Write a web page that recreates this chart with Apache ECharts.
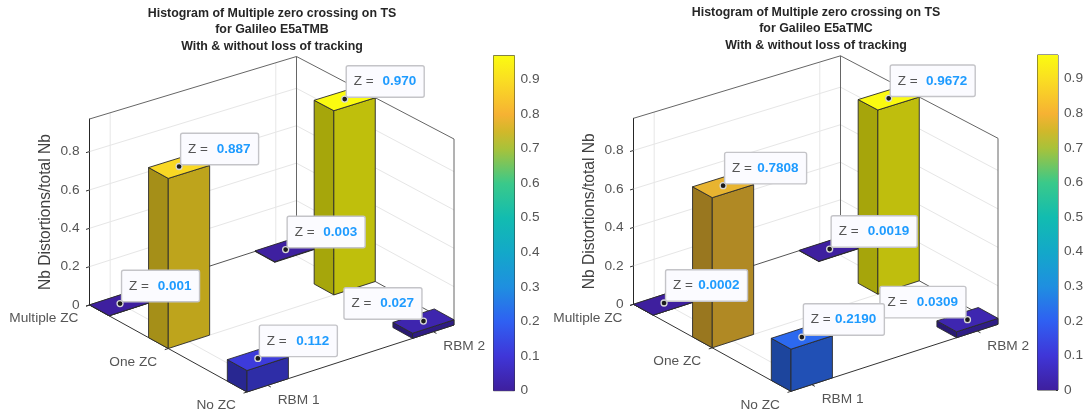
<!DOCTYPE html>
<html><head><meta charset="utf-8">
<style>html,body{margin:0;padding:0;background:#fff}#c{width:1086px;height:414px}</style>
<script src="https://cdn.jsdelivr.net/npm/echarts@6/dist/echarts.min.js"></script>
</head><body><div id="c"></div>
<script>
// ---- data ----
const rbmLabels = ['RBM 1', 'RBM 2'];
const zcLabels = ['Multiple ZC', 'One ZC', 'No ZC'];
const zTicks = [0.2, 0.4, 0.6, 0.8];
const titlesA = 'Histogram of Multiple zero crossing on TS\nfor Galileo E5aTMB\nWith & without loss of tracking';
const titlesB = 'Histogram of Multiple zero crossing on TS\nfor Galileo E5aTMC\nWith & without loss of tracking';
// rows: Multiple ZC, One ZC, No ZC ; columns: RBM 1, RBM 2
const valuesA = [[0.001, 0.003], [0.887, 0.970], [0.112, 0.027]];
const valuesB = [[0.0002, 0.0019], [0.7808, 0.9672], [0.2190, 0.0309]];
const zMaxA = 0.97, zMaxB = 0.9672;
const decimalsA = 3, decimalsB = 4;
// colormap stops: [fraction of the bar, colour]
const cmapStops = [[0,'#3e1f9e'],[0.1,'#3f36d8'],[0.2,'#2f60f2'],[0.3,'#1f8fe0'],[0.4,'#13a8c9'],[0.5,'#12bcb0'],
  [0.6,'#3ac98a'],[0.7,'#a8c23a'],[0.75,'#d1b82a'],[0.8,'#f6b233'],[0.9,'#fade22'],[0.97,'#fbfb10']];

// ---- layout ----
const panels = [
  {ox:0,   oy:0,    values:valuesA, zMax:zMaxA, dec:decimalsA, title:titlesA,
   tipW:[[78,78],[78,78],[78,78]], tipFlip:[[0,0],[0,0],[0,1]]},
  {ox:544, oy:-0.7, values:valuesB, zMax:zMaxB, dec:decimalsB, title:titlesB,
   tipW:[[82,86],[82,85],[81,86]], tipFlip:[[0,0],[0,0],[0,1]]}
];
const X0=0.875, XR=1.25, Y0=1, YR=2;
const yEdges=[[1,1.25],[1.75,2],[2.75,3]];
const xEdges=[[0.875,1.125],[1.875,2.125]];
const PW=364.5, PH=336;
function toV(panel,x,y,z){ // 3D data -> plane of the hidden cartesian axes
  const fx=(x-X0)/XR, fy=(y-Y0)/YR, h=186-4.5*fx*(1-fy);
  return [207*fx+157.5*fy, 249-67*fx+87*fy-h*(z/panel.zMax)];
}
function hex(c){return [1,3,5].map(i=>parseInt(c.substr(i,2),16));}
function cmap(v,k){
  let s=cmapStops,i=0; while(i<s.length-2&&v>s[i+1][0])i++;
  const t=Math.min(1,Math.max(0,(v-s[i][0])/(s[i+1][0]-s[i][0]))),a=hex(s[i][1]),b=hex(s[i+1][1]);
  return 'rgb('+a.map((q,j)=>Math.round((q+(b[j]-q)*t)*k)).join(',')+')';
}
const font='"Liberation Sans",Arial,sans-serif';
const grids=[],xAxes=[],yAxes=[],series=[],titles=[];

panels.forEach(p=>{
  const g=grids.length;
  // projected plane
  grids.push({left:89.5+p.ox,top:56+p.oy,width:PW,height:PH});
  xAxes.push({gridIndex:g,type:'value',min:0,max:PW,show:false});
  yAxes.push({gridIndex:g,type:'value',min:0,max:PH,inverse:true,show:false});
  // z axis
  grids.push({left:89.5+p.ox,top:119+p.oy,width:1,height:186});
  xAxes.push({gridIndex:g+1,type:'value',show:false,min:0,max:1});
  yAxes.push({gridIndex:g+1,type:'value',min:0,max:p.zMax,interval:0.2,position:'left',
    name:'Nb Distortions/total Nb',nameLocation:'middle',nameGap:36,
    nameTextStyle:{fontFamily:font,fontSize:15.6,color:'#404040'},
    axisLine:{show:true,lineStyle:{color:'#262626',width:1}},axisTick:{show:false},splitLine:{show:false},
    axisLabel:{showMaxLabel:false,fontFamily:font,fontSize:13.7,color:'#555',margin:10,
      formatter:v=>String(Math.round(v*10)/10)}});
  // colorbar
  grids.push({left:493.5+p.ox,top:55.7+p.oy,width:21,height:335,show:true,borderColor:'#333',borderWidth:1,backgroundColor:'transparent'});
  xAxes.push({gridIndex:g+2,type:'category',data:[''],show:false});
  yAxes.push({gridIndex:g+2,type:'value',min:0,max:0.968,interval:0.1,position:'right',
    axisLine:{show:false},axisTick:{show:true,inside:true,length:2,lineStyle:{color:'#333'}},splitLine:{show:false},
    axisLabel:{showMaxLabel:false,fontFamily:font,fontSize:13.7,color:'#555',margin:6,
      formatter:v=>String(Math.round(v*10)/10)}});
  series.push({type:'bar',xAxisIndex:g+2,yAxisIndex:g+2,data:[0.968],barWidth:'100%',silent:true,
    itemStyle:{color:new echarts.graphic.LinearGradient(0,1,0,0,cmapStops.map(s=>({offset:s[0]/0.97,color:s[1]})))}});

  titles.push({text:p.title,left:272+p.ox,top:5+p.oy,padding:0,textAlign:'center',
    textStyle:{fontFamily:font,fontSize:12.4,fontWeight:'bold',color:'#262626',lineHeight:16.5}});

  // frame + grid segments
  const XA=X0+XR,YA=Y0+YR,Z=p.zMax;
  const seg=[];
  const L='#e6e6e6',E='#666',D='#333';
  zTicks.forEach(z=>{seg.push([X0,Y0,z,XA,Y0,z,L],[XA,Y0,z,XA,YA,z,L]);});
  [1,2].forEach(x=>{seg.push([x,Y0,0,x,Y0,Z,L],[x,Y0,0,x,YA,0,L]);});
  seg.push([XA,2,0,XA,2,Z,L],[X0,2,0,XA,2,0,L]);
  seg.push([X0,Y0,Z,XA,Y0,Z,E],[XA,Y0,Z,XA,YA,Z,E],[XA,Y0,0,XA,Y0,Z,E],[XA,YA,0,XA,YA,Z,E]);
  seg.push([X0,Y0,0,XA,Y0,0,'#555'],[XA,Y0,0,XA,YA,0,'#555'],[X0,Y0,0,X0,YA,0,D],[X0,YA,0,XA,YA,0,D]);
  zTicks.concat([0]).forEach(z=>seg.push([X0,Y0,z,X0-0.021,Y0,z,D]));
  [1,2,3].forEach(y=>seg.push([X0,y,0,X0-0.021,y,0,D]));
  [1,2].forEach(x=>seg.push([x,YA,0,x,YA+0.04,0,D]));
  series.push({type:'custom',xAxisIndex:g,yAxisIndex:g,coordinateSystem:'cartesian2d',silent:true,data:seg,
    encode:{x:0,y:1},z:2,
    renderItem:(ps,api)=>{const r=seg[ps.dataIndex];
      const a=api.coord(toV(p,r[0],r[1],r[2])),b=api.coord(toV(p,r[3],r[4],r[5]));
      return {type:'line',shape:{x1:a[0],y1:a[1],x2:b[0],y2:b[1]},style:{stroke:r[6],lineWidth:1}};}});

  // axis category labels
  const labs=[];
  zcLabels.forEach((t,i)=>labs.push({t,x:X0,y:i+1,dx:-11,dy:13.5,al:'right'}));
  rbmLabels.forEach((t,i)=>labs.push({t,x:i+1,y:YA,dx:10,dy:15,al:'left'}));
  series.push({type:'custom',xAxisIndex:g,yAxisIndex:g,coordinateSystem:'cartesian2d',silent:true,data:labs.map((l,i)=>[i,0]),
    encode:{x:0,y:1},z:3,
    renderItem:(ps,api)=>{const l=labs[ps.dataIndex],a=api.coord(toV(p,l.x,l.y,0));
      return {type:'text',x:a[0]+l.dx,y:a[1]+l.dy,style:{text:l.t,fill:'#555',font:'13.7px '+font,textAlign:l.al,textVerticalAlign:'middle'}};}});

  // bars, back to front
  const bars=[];
  p.values.forEach((row,i)=>row.forEach((v,j)=>bars.push({i,j,v})));
  bars.sort((a,b)=>(b.j-a.j)-(b.i-a.i)||a.i-b.i);
  series.push({type:'custom',xAxisIndex:g,yAxisIndex:g,coordinateSystem:'cartesian2d',silent:true,data:bars.map(b=>[b.j,b.i,b.v]),
    encode:{x:0,y:1},z:4,
    renderItem:(ps,api)=>{const b=bars[ps.dataIndex];
      const [xl,xh]=xEdges[b.j],[yl,yh]=yEdges[b.i],Pt=(x,y,z)=>api.coord(toV(p,x,y,z));
      const f=(pts,k)=>({type:'polygon',shape:{points:pts},style:{fill:cmap(b.v,k),stroke:'#2a2a2a',lineWidth:0.9,lineJoin:'round'}});
      return {type:'group',children:[
        f([Pt(xl,yl,0),Pt(xl,yh,0),Pt(xl,yh,b.v),Pt(xl,yl,b.v)],0.66),
        f([Pt(xl,yh,0),Pt(xh,yh,0),Pt(xh,yh,b.v),Pt(xl,yh,b.v)],0.76),
        f([Pt(xl,yl,b.v),Pt(xl,yh,b.v),Pt(xh,yh,b.v),Pt(xh,yl,b.v)],1)
      ]};}});

  // data tips
  series.push({type:'custom',xAxisIndex:g,yAxisIndex:g,coordinateSystem:'cartesian2d',silent:true,data:bars.map(b=>[b.j,b.i,b.v]),
    encode:{x:0,y:1},z:6,
    renderItem:(ps,api)=>{const b=bars[ps.dataIndex];
      const cx=(xEdges[b.j][0]+xEdges[b.j][1])/2,cy=(yEdges[b.i][0]+yEdges[b.i][1])/2;
      const d=api.coord(toV(p,cx,cy,b.v)),w=p.tipW[b.i][b.j],H=31.5;
      const bx=p.tipFlip[b.i][b.j]?d[0]-1.5-w:d[0]+1.5, by=d[1]-1.8-H;
      return {type:'group',children:[
        {type:'circle',shape:{cx:d[0],cy:d[1],r:3},style:{fill:'#1c1c1c',stroke:'#d8d8d8',lineWidth:1.3}},
        {type:'rect',shape:{x:bx,y:by,width:w,height:H,r:2},style:{fill:'#fbfbff',stroke:'#c4c4c8',lineWidth:1.4}},
        {type:'text',x:bx+7.5,y:by+H/2,style:{text:'Z =',fill:'#555',font:'13.5px '+font,textAlign:'left',textVerticalAlign:'middle'}},
        {type:'text',x:bx+w-8,y:by+H/2,style:{text:b.v.toFixed(p.dec),fill:'#1e9bff',font:'bold 13.5px '+font,textAlign:'right',textVerticalAlign:'middle'}}
      ]};}});
});

const chart=echarts.init(document.getElementById('c'),null,{renderer:'canvas'});
chart.setOption({animation:false,backgroundColor:'#fff',title:titles,grid:grids,xAxis:xAxes,yAxis:yAxes,series,tooltip:{show:false}});
</script></body></html>
